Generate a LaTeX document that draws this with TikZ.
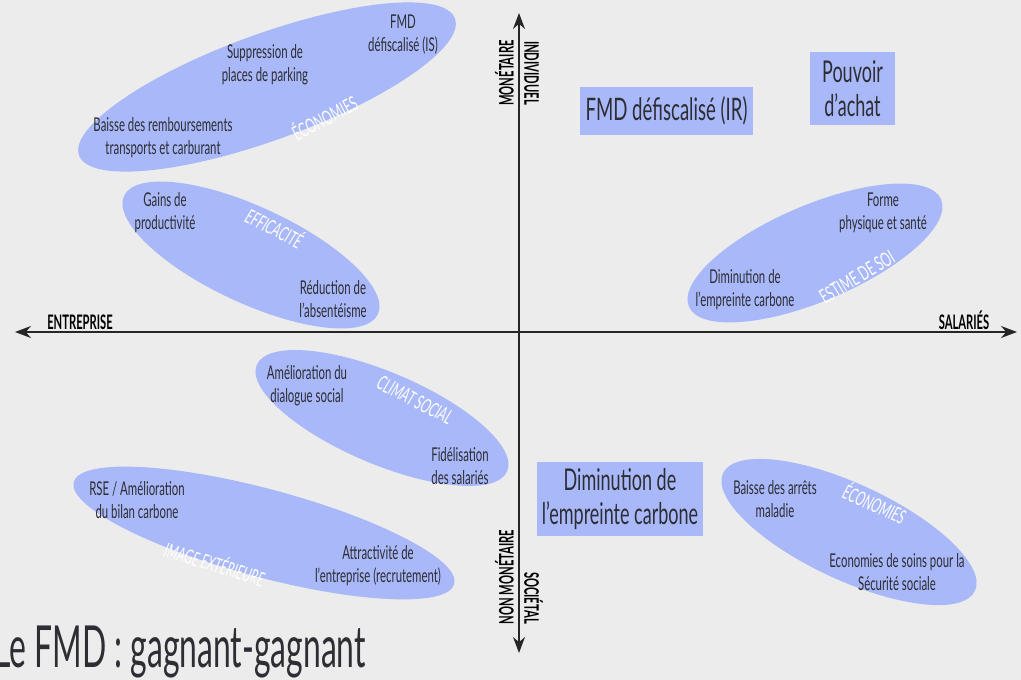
\documentclass[tikz,border=0pt]{standalone}
\usepackage{fontspec}
\setmainfont{Lato}[FakeStretch=0.6]
\newfontfamily\titlefont{Lato}[FakeStretch=0.55]
\newfontfamily\axisfont{Lato}[FakeStretch=0.56]
\usetikzlibrary{shapes.geometric,arrows.meta}
\definecolor{bg}{RGB}{236,236,236}
\definecolor{blob}{RGB}{168,184,248}
\definecolor{ink}{RGB}{45,45,52}
\begin{document}
\begin{tikzpicture}[x=1pt,y=1pt,
  blobst/.style={ellipse, fill=blob, draw=none, inner sep=0pt},
  txt/.style={align=center, text=ink, inner sep=0pt, font=\fontsize{19}{23}\selectfont},
  cat/.style={text=white, inner sep=0pt, font=\fontsize{20}{20}\selectfont},
  catit/.style={cat, font=\fontsize{20}{20}\selectfont\itshape},
  boxst/.style={fill=blob, text=ink, align=center, inner sep=0pt, font=\fontsize{30}{34}\selectfont},
  axislab/.style={text=black, inner sep=0pt, font=\axisfont\bfseries\fontsize{20}{20}\selectfont},
  axisline/.style={draw=black!85, line width=1.6pt, {Stealth[length=16pt,width=12pt]}-{Stealth[length=16pt,width=12pt]}}]
\clip (0,0) rectangle (1021,-680);
\fill[bg] (0,0) rectangle (1021,-680);
% ellipses
\node[blobst, minimum width=400pt, minimum height=106pt, rotate=20] (e1) at (267,-87) {};
\node[blobst, minimum width=280pt, minimum height=96pt, rotate=-25] (e2) at (251,-255) {};
\node[blobst, minimum width=274pt, minimum height=96pt, rotate=23] (e3) at (815,-253) {};
\node[blobst, minimum width=272pt, minimum height=92pt, rotate=-23] (e4) at (382,-418) {};
\node[blobst, minimum width=394pt, minimum height=88pt, rotate=-15] (e5) at (264,-533) {};
\node[blobst, minimum width=278pt, minimum height=96pt, rotate=-25] (e6) at (849,-532) {};
% boxes
\node[boxst, minimum width=173pt, minimum height=48pt, font=\fontsize{31}{34}\selectfont] (b1) at (666.5,-111) {FMD défiscalisé (IR)};
\node[boxst, minimum width=85pt, minimum height=73pt] (b2) at (852.5,-88.5) {Pouvoir\\d'achat};
\node[boxst, minimum width=166pt, minimum height=74pt] (b3) at (620,-499) {Diminution de\\l'empreinte carbone};
% axes
\coordinate (hl) at (15,-332);
\coordinate (hr) at (1017,-332);
\coordinate (vt) at (519,-13);
\coordinate (vb) at (519,-653);
\draw[axisline] (hl) -- (hr);
\draw[axisline] (vt) -- (vb);
\node[axislab, anchor=south] (lent) at (80,-330) {ENTREPRISE};
\node[axislab, anchor=south] (lsal) at (964,-330) {SALARIÉS};
\node[axislab, rotate=90, anchor=south] (lmon) at (514,-73) {MONÉTAIRE};
\node[axislab, rotate=-90, anchor=south] (lind) at (524,-73) {INDIVIDUEL};
\node[axislab, rotate=90, anchor=south] (lnmon) at (514,-577) {NON MONÉTAIRE};
\node[axislab, rotate=-90, anchor=south] (lsoc) at (524,-598) {SOCIÉTAL};
% texts e1
\node[txt] (t1a) at (403,-35) {FMD\\défiscalisé (IS)};
\node[txt] (t1b) at (265,-65) {Suppression de\\places de parking};
\node[txt] (t1c) at (163,-138) {Baisse des remboursements\\transports et carburant};
\node[cat, rotate=28] (c1) at (324,-117) {ÉCONOMIES};
% e2
\node[txt] (t2a) at (165,-213) {Gains de\\productivité};
\node[txt] (t2b) at (333,-299) {Réduction de\\l'absentéisme};
\node[catit, rotate=-27] (c2) at (275,-227) {EFFICACITÉ};
% e3
\node[txt] (t3a) at (883,-213) {Forme\\physique et santé};
\node[txt] (t3b) at (745,-290) {Diminution de\\l'empreinte carbone};
\node[cat, rotate=31] (c3) at (857,-277) {ESTIME DE SOI};
% e4
\node[txt] (t4a) at (307,-386) {Amélioration du\\dialogue social};
\node[txt] (t4b) at (460,-466) {Fidélisation\\des salariés};
\node[catit, rotate=-27] (c4) at (415,-400) {CLIMAT SOCIAL};
% e5
\node[txt] (t5a) at (137,-500) {RSE / Amélioration\\du bilan carbone};
\node[txt] (t5b) at (378,-566) {Attractivité de\\l'entreprise (recrutement)};
\node[catit, rotate=-17] (c5) at (215,-563) {IMAGE EXTÉRIEURE};
% e6
\node[txt] (t6a) at (775,-499) {Baisse des arrêts\\maladie};
\node[txt] (t6b) at (897,-572) {Economies de soins pour la\\Sécurité sociale};
\node[catit, rotate=-24] (c6) at (875,-503) {ÉCONOMIES};
% title
\node[anchor=base west, text=ink, inner sep=0pt, font=\titlefont\fontsize{58}{58}\selectfont] (title) at (-6,-667) {Le FMD : gagnant-gagnant};
\end{tikzpicture}
\end{document}
